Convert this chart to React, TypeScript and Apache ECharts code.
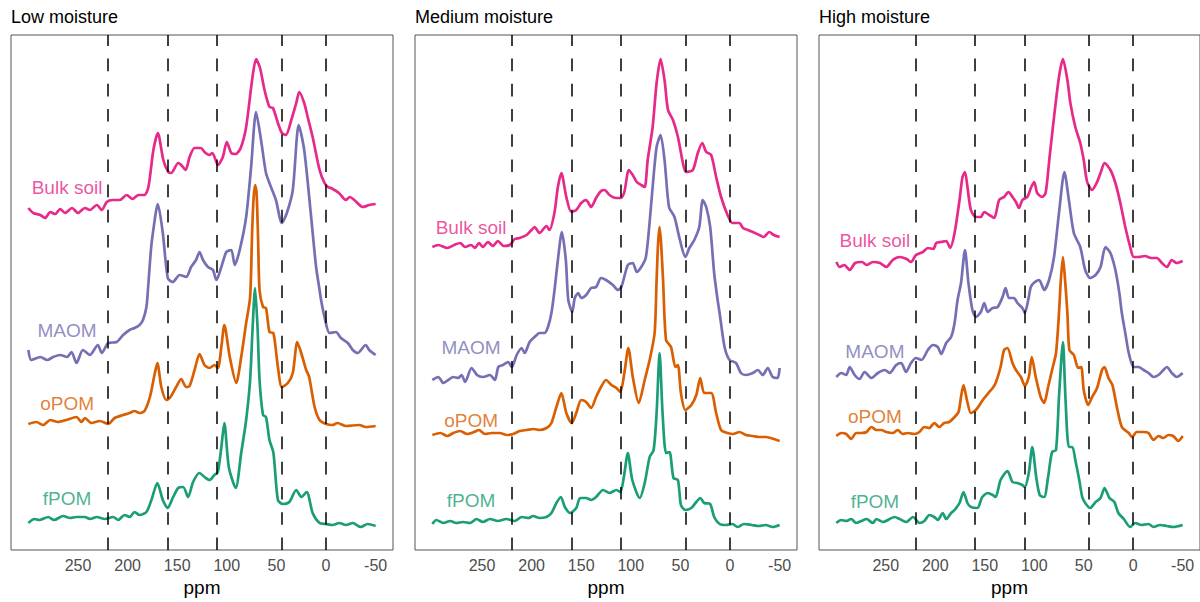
import React, { useEffect, useRef } from "react";
import * as echarts from "echarts";

// ---------- data ----------
const ppmTicks = [250, 200, 150, 100, 50, 0, -50];
const refLines = [220, 160, 110, 45, 0];
const panelTitles = ["Low moisture", "Medium moisture", "High moisture"];
const seriesNames = ["Bulk soil", "MAOM", "oPOM", "fPOM"];
const seriesColors = ["#e7298a", "#7570b3", "#d95f02", "#1b9e77"];

// vertical stacking offsets of each spectrum (Bulk soil, MAOM, oPOM, fPOM)
const lowOffsets = [330, 190, 122, 22];
const medOffsets = [300, 170, 112, 22];
const highOffsets = [282, 172, 112, 22];
// label heights above each spectrum's offset
const labelPpm = 261;
const lowLabelRise = [33, 30, 25, 30];
const medLabelRise = [23, 33, 18, 28];
const highLabelRise = [28, 27, 22, 27];

// [ppm, intensity]
const lowBulk = [[300,12],[295,7],[288,5],[283,2],[278,8],[273,6],[268,11],[263,7],[256,12],[250,7],[243,12],[238,10],[231,15],[226,10],[221,18],[215,20],[208,20],[201,25],[195,21],[189,25],[183,25],[179,33],[174,70],[169.5,87],[164,60],[159,48],[156,47],[149,57],[146,55],[141.5,50],[137.5,63],[132.5,72],[126,72],[122.5,68],[117.5,65],[114.5,67],[109,55],[104,63],[100,78],[95.5,67],[91,66],[86,72],[80.5,93],[74.5,140],[70.5,161],[66.5,152],[62,130],[57,113],[53.5,112],[48.5,97],[44.5,87],[40.5,85],[35,100],[30,117],[27,128],[22,117],[18.5,103],[13.5,83],[6.5,50],[1.5,37],[-2,33],[-5,32],[-13,27],[-20,20],[-24,23],[-28.5,20],[-37,13],[-43.5,15],[-50,16]];
const lowMaom = [[300,10],[297,0],[288,3],[281,0],[275,3],[268,5],[261,3],[256.5,8],[251.5,-3],[245,10],[238,5],[230,15],[226,7],[219.5,17],[211,18],[204.5,25],[198,30],[193,32],[188,35],[184.5,40],[181,53],[179.5,70],[176.5,110],[174.5,127],[169.5,156],[164.5,127],[159.5,82],[154.5,78],[147.5,85],[141,83],[136,93],[131,100],[127.5,108],[124,100],[119,93],[114,90],[110.5,80],[105.5,93],[100.5,108],[95.5,110],[92,95],[87,110],[80.5,143],[75.5,193],[70.5,248],[65.5,220],[60.5,187],[55.5,173],[50.5,160],[44.5,137],[39.5,147],[33.5,170],[27.5,235],[22,210],[15,143],[10,93],[6.5,70],[5,60],[1.5,43],[-3.5,27],[-10,28],[-15,22],[-22,17],[-27,10],[-32,7],[-40,15],[-43.5,10],[-50,5]];
const lowOpom = [[300,4],[292,6],[285,3],[278,8],[270,6],[262,8],[251.5,11],[246.5,6],[243,10],[236.5,5],[228,7],[219.5,4],[213,10],[204.5,13],[198,15],[193,17],[188,15],[183,17],[177.5,31],[172.5,55],[170,65],[166,41],[161,28],[157.5,30],[151,41],[146,49],[141,41],[137.5,42],[132.5,58],[127.5,74],[122.5,63],[117.5,60],[112.5,63],[109,60],[105.5,81],[102.5,103],[97,71],[90.5,45],[85.5,71],[80.5,105],[76.5,131],[74.5,195],[73,230],[71.5,243],[70,235],[68.5,190],[67,138],[63.5,121],[60.5,120],[57,96],[53,95],[48.5,61],[44.5,41],[38.5,45],[33.5,55],[29,86],[25,75],[20,58],[17,51],[11.5,21],[6.5,8],[0,4],[-6.5,3],[-11.5,5],[-20,2],[-33.5,3],[-40,1],[-50,2]];
const lowFpom = [[300,5],[294,9],[289,8],[280,11],[274,8],[265,12],[258,10],[251.5,11],[243,11],[238,9],[231,11],[223,9],[214.5,11],[209.5,8],[203,13],[198,11],[193,16],[188,13],[181,16],[176,28],[170,45],[164.5,28],[159.5,20],[154.5,30],[149,40],[144,41],[139,31],[134,46],[127.5,55],[122.5,51],[117.5,48],[112.5,53],[109,56],[105.5,81],[102.5,105],[98,61],[91,40],[85.5,75],[80.5,108],[76.5,148],[74,200],[71.5,240],[69,200],[67,148],[63.5,113],[60.5,111],[57,88],[53,75],[48.5,28],[43.5,24],[37,26],[30,38],[25,31],[19.5,36],[13.5,15],[6.5,5],[0,4],[-6.5,3],[-13.5,5],[-20,3],[-27,5],[-35,1],[-42,4],[-50,2]];

const medBulk = [[300,3],[294,5],[285,2],[278,5],[272,7],[267,3],[261,5],[257,2],[253,7],[249,3],[244,8],[239,4],[234,9],[228,4],[222,5],[217,11],[212,12],[205,15],[200,20],[197,23],[192,17],[185,24],[182,20],[177,37],[173.5,63],[170,77],[165,53],[160,38],[155,40],[150,47],[145,50],[140,43],[135,52],[130,59],[126.5,60],[121.5,55],[115,52],[110,52],[106.5,58],[102,80],[98,75],[94,68],[89.5,65],[86,63],[83,90],[78,123],[74,167],[70,191],[66,170],[62.5,140],[57.5,130],[52.5,113],[47.5,87],[44.5,78],[37.5,80],[32.5,97],[28,107],[24,98],[19,95],[14,73],[9,53],[2.5,35],[-2.5,27],[-9.5,27],[-13,22],[-18,20],[-23,18],[-29.5,15],[-34,13],[-39.5,18],[-44,15],[-50,13]];
const medMaom = [[300,0],[294,3],[289,-3],[284,0],[279,3],[274,2],[270.5,5],[267,-2],[260.5,12],[255,5],[249,3],[242,5],[237,0],[233.5,13],[229,15],[223.5,18],[220,13],[215,25],[210,32],[207,27],[202,38],[197,43],[192,47],[187,47],[183.5,53],[180,67],[176.5,93],[173.5,120],[169.5,148],[165.5,120],[163,80],[159,68],[156.5,82],[153,87],[150,82],[145,85],[140,92],[135,93],[130,102],[125,100],[118,95],[113,90],[109.5,93],[103,115],[98,117],[94,108],[89.5,113],[85,122],[82,147],[78,193],[74,233],[70,245],[66,220],[61.5,173],[56,163],[50.5,140],[45,123],[41,132],[36,140],[31,153],[27.5,180],[24,173],[20,153],[16,107],[12.5,80],[10.5,67],[5.5,33],[0.5,20],[-6,17],[-11,7],[-16,5],[-23,7],[-28,10],[-33,5],[-38,12],[-43,3],[-48,2],[-50,12]];
const medOpom = [[300,3],[292,5],[285,2],[279,5],[272,7],[265,4],[258,6],[253,8],[247,4],[240,5],[232,5],[225,3],[218.5,4],[212,7],[205,8],[198,9],[192,8],[185,10],[180,15],[175,31],[170,45],[165,25],[159.5,15],[155,25],[150,38],[145,36],[140,30],[135,41],[130,51],[125,58],[119.5,53],[114.5,50],[110.5,46],[106.5,65],[102.5,90],[98,61],[92,35],[86,58],[81,78],[76,105],[74,158],[72.5,195],[71,211],[69.5,195],[67.5,158],[64.5,98],[59.5,91],[55,71],[52.5,73],[49.5,45],[45,28],[39,33],[34,43],[30,60],[26,45],[19,45],[14,25],[9,8],[2.5,5],[-3,4],[-9.5,6],[-16,3],[-23,2],[-29.5,1],[-36,1],[-41,0],[-50,-3]];
const medFpom = [[300,4],[296,8],[289,5],[282,7],[276,5],[269,6],[262,5],[255.5,9],[249,6],[242,9],[234,7],[225.5,9],[217,7],[210,11],[203,10],[198.5,12],[192,10],[185,11],[180,15],[175,25],[170.5,31],[166.5,21],[161,15],[155,20],[151,30],[145,30],[140,28],[135,31],[128,38],[121.5,35],[114.5,38],[110.5,36],[107,51],[103,75],[98.5,48],[91,30],[86,45],[81,71],[77,78],[74,115],[71,175],[68,115],[64.5,75],[61,76],[57,50],[52.5,48],[49.5,23],[45,18],[39,20],[34,26],[30,30],[26,25],[20,24],[16,11],[10.5,4],[4,3],[-2.5,4],[-7.5,1],[-14,4],[-22,3],[-29,2],[-36,3],[-43,1],[-50,3]];

const highBulk = [[300,6],[296.5,1],[292,3],[286.5,-2],[281,5],[274,6],[269.5,3],[263,6],[256,5],[249.5,1],[243,8],[236,11],[229,9],[224.5,6],[219.5,13],[212.5,16],[207.5,20],[202,19],[199,25],[194,26],[189,27],[185,20],[180.5,35],[175.5,68],[172.5,91],[170,96],[167.5,81],[164,58],[159,51],[154,51],[150.5,56],[145.5,53],[140.5,50],[135.5,68],[130.5,71],[126,76],[122,71],[118.5,66],[115.5,60],[112,68],[107,71],[103,81],[100,86],[97,75],[92,71],[88.5,75],[84.5,111],[80,151],[75,191],[71,209],[66.5,188],[63.5,165],[58.5,141],[53.5,125],[50,108],[46.5,86],[41.5,78],[36.5,86],[33,95],[29,105],[23,98],[18,85],[13,65],[8,41],[3,21],[-0.5,11],[-5.5,11],[-12,12],[-18,10],[-24,10],[-29,5],[-34,1],[-39,8],[-44,5],[-50,7]];
const highMaom = [[300,1],[295,5],[290,3],[286.5,11],[281.5,3],[276.5,-1],[271.5,6],[264.5,0],[258,5],[251,8],[246,5],[239.5,13],[234.5,15],[229.5,6],[224.5,15],[219.5,20],[214,18],[207.5,28],[202.5,33],[197.5,31],[194,24],[189,35],[184,41],[180.5,55],[177.5,78],[174,95],[170,128],[166.5,95],[162.5,68],[159,61],[154,66],[150.5,75],[147,66],[142,70],[137,71],[132,81],[129,90],[125.5,80],[120.5,80],[117,75],[112,70],[109.5,65],[105.5,81],[103.5,91],[100.5,95],[95,98],[90,88],[85,98],[80,121],[75,165],[69.5,206],[65,178],[60,145],[53.5,131],[48.5,108],[43.5,100],[38,103],[33,111],[28,131],[23,125],[18,108],[14,85],[11.5,65],[8,45],[4.5,25],[-0.5,11],[-5.5,11],[-10.5,8],[-15.5,5],[-20.5,1],[-25.5,3],[-30.5,8],[-34,11],[-39,5],[-44,1],[-50,5]];
const highOpom = [[300,2],[295,5],[290,4],[285,-1],[280,5],[274.5,5],[269.5,6],[264.5,11],[259.5,8],[254.5,8],[249.5,6],[243,5],[238,8],[233,4],[228,5],[221,4],[216,6],[211,11],[206,10],[201,15],[196,11],[191,15],[186,16],[180.5,21],[176.5,26],[174,41],[171.5,53],[168,38],[164,25],[159,28],[154,35],[150.5,40],[145.5,46],[142,50],[139,55],[134,71],[130.5,88],[127,90],[122,75],[118.5,68],[113.5,61],[109.5,52],[105.5,61],[102.5,81],[98.5,61],[93.5,41],[90,35],[86,51],[82,68],[78,85],[75,125],[73,160],[71,181],[69,160],[66.5,125],[64.5,88],[60,83],[55.5,70],[52.5,71],[50,48],[45.5,33],[41.5,41],[36.5,50],[31.5,68],[29,71],[25,60],[21,53],[16.5,31],[11.5,11],[4.5,5],[1,1],[-3.5,6],[-10.5,6],[-15.5,5],[-20.5,-2],[-25.5,2],[-30.5,0],[-35.5,3],[-40.5,2],[-45.5,-3],[-50,2]];
const highFpom = [[300,5],[295,8],[290,7],[285,9],[280,5],[274.5,7],[269.5,9],[263,5],[259.5,9],[253,6],[241,11],[236,9],[229.5,6],[222.5,11],[216,5],[211,7],[206,13],[201,11],[197.5,8],[192.5,15],[189,9],[184,15],[180.5,18],[175.5,25],[171.5,36],[167.5,25],[164,21],[157.5,20],[152.5,31],[147,35],[142,33],[139,31],[134,48],[127,57],[122,46],[117,45],[112,43],[109.5,41],[105.5,55],[102,81],[98,51],[94.5,33],[90,31],[86,51],[82,76],[78,78],[75,131],[71,186],[68.5,131],[65,81],[61.5,81],[58.5,68],[54.5,48],[51.5,31],[48.5,25],[43.5,20],[38,26],[33,30],[29,40],[24,30],[19,26],[15,15],[9.5,9],[3,1],[-2,5],[-8.5,3],[-15.5,4],[-20.5,1],[-27,3],[-34,2],[-40.5,1],[-50,3]];

// ---------- layout ----------
const FONT = "'Liberation Sans', Arial, sans-serif";
const gridLefts = [11, 415, 819];
const gridTop = 35;
const gridW = 382;
const gridH = 515;
const xMin = -67.5;
const xMax = 317.5;
const yMax = 515;

const panels = [
  { title: panelTitles[0], offsets: lowOffsets, rise: lowLabelRise, spectra: [lowBulk, lowMaom, lowOpom, lowFpom] },
  { title: panelTitles[1], offsets: medOffsets, rise: medLabelRise, spectra: [medBulk, medMaom, medOpom, medFpom] },
  { title: panelTitles[2], offsets: highOffsets, rise: highLabelRise, spectra: [highBulk, highMaom, highOpom, highFpom] },
];

function buildOption() {
  const series: any[] = [];
  panels.forEach((p, i) => {
    p.spectra.forEach((spec, j) => {
      series.push({
        type: "line",
        name: seriesNames[j],
        xAxisIndex: i,
        yAxisIndex: i,
        data: spec.map(([x, v]) => [x, v + p.offsets[j]]),
        symbol: "none",
        showSymbol: false,
        smooth: 0.25,
        silent: true,
        lineStyle: { color: seriesColors[j], width: 2.7 },
        z: 2,
      });
    });
    series.push({
      type: "line",
      xAxisIndex: i,
      yAxisIndex: i,
      data: [],
      silent: true,
      z: 3,
      markLine: {
        silent: true,
        symbol: ["none", "none"],
        label: { show: false },
        lineStyle: { color: "#000", width: 1.5, type: [12.6, 12.6], opacity: 1 },
        emphasis: { disabled: true },
        data: refLines.map((v) => [{ coord: [v, 0] }, { coord: [v, yMax] }]),
      },
    });
    series.push({
      type: "scatter",
      xAxisIndex: i,
      yAxisIndex: i,
      symbolSize: 0,
      silent: true,
      z: 4,
      data: seriesNames.map((n, j) => ({
        name: n,
        value: [labelPpm, p.offsets[j] + p.rise[j]],
        label: {
          show: true,
          position: "inside",
          formatter: n,
          color: seriesColors[j],
          fontSize: 19,
          fontFamily: FONT,
        },
      })),
    });
  });

  return {
    animation: false,
    backgroundColor: "#fff",
    title: panels.map((p, i) => ({
      text: p.title,
      left: gridLefts[i],
      top: 8,
      padding: 0,
      textStyle: { fontSize: 18, fontWeight: "normal", color: "#000", fontFamily: FONT },
    })),
    grid: panels.map((_, i) => ({
      left: gridLefts[i],
      top: gridTop,
      width: gridW,
      height: gridH,
      show: true,
      borderColor: "#555",
      borderWidth: 1,
      backgroundColor: "transparent",
    })),
    xAxis: panels.map((_, i) => ({
      type: "value",
      gridIndex: i,
      inverse: true,
      min: xMin,
      max: xMax,
      axisLine: { show: false },
      axisTick: { show: false },
      splitLine: { show: false },
      axisLabel: {
        customValues: ppmTicks,
        color: "#4d4d4d",
        fontSize: 16,
        margin: 7,
        fontFamily: FONT,
        formatter: (v: number) => String(v),
      },
      name: "ppm",
      nameLocation: "middle",
      nameGap: 28,
      nameTextStyle: { fontSize: 19, color: "#000", fontFamily: FONT },
    })),
    yAxis: panels.map((_, i) => ({
      type: "value",
      gridIndex: i,
      min: 0,
      max: yMax,
      show: false,
    })),
    series,
  };
}

export default function App() {
  const ref = useRef<HTMLDivElement>(null);
  useEffect(() => {
    if (!ref.current) return;
    const chart = echarts.init(ref.current, null, { renderer: "svg" });
    chart.setOption(buildOption() as any);
    return () => chart.dispose();
  }, []);
  return (
    <div
      ref={ref}
      style={{ position: "absolute", left: 0, top: 0, width: 1200, height: 602, background: "#fff" }}
    />
  );
}
